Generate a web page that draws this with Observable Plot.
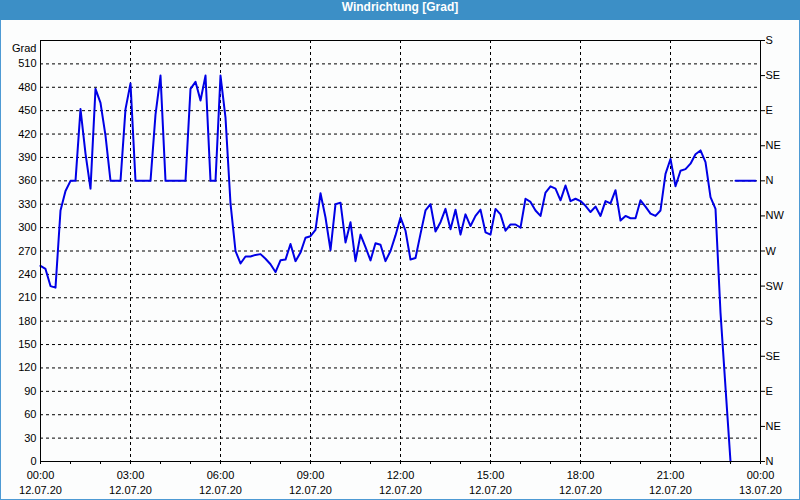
<!DOCTYPE html>
<html>
<head>
<meta charset="utf-8">
<script src="https://cdn.jsdelivr.net/npm/d3@7"></script>
<script src="https://cdn.jsdelivr.net/npm/@observablehq/plot@0.6"></script>
<style>
  html, body { margin: 0; padding: 0; background: #fcfdfd; }
  #wrap { position: relative; width: 800px; height: 500px; overflow: hidden; background: #fcfdfd; }
  #title { height: 20px; line-height: 20px; background: #3c8fc6; color: #fff; text-align: center;
           font: bold 12px "Liberation Sans", "DejaVu Sans", sans-serif; }
  #border { position: absolute; left: 0; top: 20px; width: 800px; height: 480px; box-sizing: border-box;
            border: 1px solid #4d9ad4; border-top: none; pointer-events: none; }
  svg { display: block; }
</style>
</head>
<body>
<div id="wrap">
  <div id="title">Windrichtung [Grad]</div>
  <div id="chart"></div>
  <div id="border"></div>
</div>
<script>
// 10-minute readings, 12.07.20 00:00 → 23:00
const dirMain = [
  251, 247, 225, 223, 322, 347, 360, 360, 452, 395, 350, 478,
  460, 418, 360, 360, 360, 452, 485, 360, 360, 360, 360, 445,
  495, 360, 360, 360, 360, 360, 478, 487, 463, 495, 360, 360,
  495, 441, 331, 270, 254, 263, 263, 265, 266, 260, 253, 243,
  258, 259, 279, 257, 268, 287, 289, 297, 344, 313, 271, 330,
  332, 281, 307, 257, 291, 275, 258, 280, 278, 257, 270, 290,
  313, 296, 259, 261, 292, 322, 330, 295, 307, 324, 298, 323,
  291, 317, 302, 315, 323, 294, 291, 324, 317, 296, 304, 304,
  300, 337, 333, 322, 315, 345, 353, 350, 335, 354, 334, 337,
  334, 328, 320, 327, 315, 334, 331, 348, 309, 315, 312, 312,
  335, 327, 318, 315, 322, 369, 388, 353, 373, 375, 382, 394,
  399, 384, 339, 324, 191, 95, 0
];
// 10-minute readings, 23:10 → 23:50 (drawn as a separate segment)
const dirLate = [360, 360, 360, 360, 360];

const yTicks = [0, 30, 60, 90, 120, 150, 180, 210, 240, 270, 300, 330, 360, 390, 420, 450, 480, 510];
const compassTicks = [0, 45, 90, 135, 180, 225, 270, 315, 360, 405, 450, 495, 540];
const compassLabels = ["N", "NE", "E", "SE", "S", "SW", "W", "NW", "N", "NE", "E", "SE", "S"];
const majorHours = [0, 3, 6, 9, 12, 15, 18, 21, 24];
const gridHours = [3, 6, 9, 12, 15, 18, 21];

const t0 = Date.UTC(2020, 6, 12);
const stepMs = 10 * 60 * 1000;
const hourDate = h => new Date(t0 + h * 3600 * 1000);

const data = dirMain.map((v, i) => ({t: new Date(t0 + i * stepMs), v, s: "a"}))
  .concat(dirLate.map((v, i) => ({t: new Date(t0 + (dirMain.length + i) * stepMs), v, s: "b"})));

const fmtTime = d3.utcFormat("%H:%M");
const fmtDate = d3.utcFormat("%d.%m.%y");

const chart = Plot.plot({
  width: 800,
  height: 480,
  marginTop: 20,
  marginBottom: 39,
  marginLeft: 40,
  marginRight: 40,
  style: {fontFamily: "Liberation Sans, DejaVu Sans, sans-serif", fontSize: "11px", background: "transparent", color: "#000", overflow: "visible"},
  x: {type: "utc", domain: [hourDate(0), hourDate(24)], axis: null},
  y: {domain: [0, 540], axis: null},
  marks: [
    Plot.gridY(yTicks.filter(d => d > 0), {stroke: "#000", strokeOpacity: 1, strokeDasharray: "3,3"}),
    Plot.gridX(gridHours.map(hourDate), {stroke: "#000", strokeOpacity: 1, strokeDasharray: "3,3"}),
    Plot.line(data, {x: "t", y: "v", z: "s", stroke: "#0000e6", strokeWidth: 2, curve: "linear"}),
    Plot.frame({stroke: "#000"}),
    Plot.axisY({anchor: "left", ticks: yTicks, tickSize: 0, tickPadding: 4, label: null}),
    Plot.axisY({anchor: "right", ticks: compassTicks, tickFormat: d => compassLabels[Math.round(d / 45)], tickSize: 4, tickPadding: 1, label: null}),
    Plot.axisX({anchor: "bottom", ticks: d3.range(0, 25).map(hourDate), tickSize: 3, tickFormat: () => "", label: null}),
    Plot.axisX({anchor: "bottom", ticks: majorHours.map(hourDate), tickSize: 0, tickPadding: 10, tickFormat: fmtTime, label: null}),
    Plot.axisX({anchor: "bottom", ticks: majorHours.map(hourDate), tickSize: 0, tickPadding: 25, tickFormat: fmtDate, label: null}),
    Plot.text(["Grad"], {frameAnchor: "top-left", textAnchor: "end", dx: -4, dy: 4, fill: "#000"})
  ]
});
document.getElementById("chart").appendChild(chart);
</script>
</body>
</html>
